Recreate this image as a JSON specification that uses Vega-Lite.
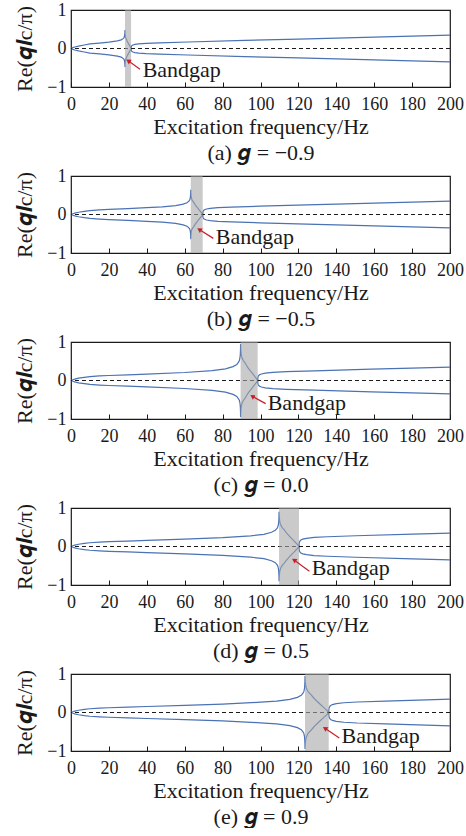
{
"$schema": "https://vega.github.io/schema/vega-lite/v6.json",
"padding": {"left": 13, "top": 0, "right": 2, "bottom": 0},
"spacing": 2,
"datasets": {
"curves": [
{"p":"a","f":0,"u":0,"l":0},{"p":"a","f":1,"u":0.022,"l":-0.022},{"p":"a","f":2,"u":0.039,"l":-0.039},{"p":"a","f":4,"u":0.063,"l":-0.063},{"p":"a","f":7,"u":0.091,"l":-0.091},{"p":"a","f":10,"u":0.119,"l":-0.119},{"p":"a","f":15,"u":0.141,"l":-0.141},{"p":"a","f":20,"u":0.164,"l":-0.164},{"p":"a","f":24.5,"u":0.197,"l":-0.197},{"p":"a","f":26.5,"u":0.225,"l":-0.225},{"p":"a","f":27.5,"u":0.256,"l":-0.256},{"p":"a","f":27.9,"u":0.277,"l":-0.277},{"p":"a","f":28.2,"u":0.312,"l":-0.312},{"p":"a","f":28.35,"u":0.354,"l":-0.354},{"p":"a","f":28.45,"u":0.41,"l":-0.41},{"p":"a","f":28.5,"u":0.48,"l":-0.48},
{"p":"a","f":28.53,"u":0.408,"l":-0.408},{"p":"a","f":28.6,"u":0.355,"l":-0.355},{"p":"a","f":28.69,"u":0.317,"l":-0.317},{"p":"a","f":28.82,"u":0.288,"l":-0.288},{"p":"a","f":29.04,"u":0.259,"l":-0.259},{"p":"a","f":29.3,"u":0.235,"l":-0.235},{"p":"a","f":29.62,"u":0.197,"l":-0.197},{"p":"a","f":29.94,"u":0.163,"l":-0.163},{"p":"a","f":30.26,"u":0.134,"l":-0.134},{"p":"a","f":30.58,"u":0.106,"l":-0.106},{"p":"a","f":30.9,"u":0.077,"l":-0.077},{"p":"a","f":31.22,"u":0.048,"l":-0.048},{"p":"a","f":31.48,"u":0.026,"l":-0.026},{"p":"a","f":31.7,"u":0,"l":0},
{"p":"a","f":31.8,"u":0.047,"l":-0.047},{"p":"a","f":32,"u":0.067,"l":-0.067},{"p":"a","f":32.3,"u":0.08,"l":-0.08},{"p":"a","f":32.7,"u":0.091,"l":-0.091},{"p":"a","f":33.7,"u":0.105,"l":-0.105},{"p":"a","f":35.7,"u":0.118,"l":-0.118},{"p":"a","f":39.7,"u":0.133,"l":-0.133},{"p":"a","f":46.7,"u":0.147,"l":-0.147},{"p":"a","f":61.7,"u":0.169,"l":-0.169},{"p":"a","f":91.7,"u":0.21,"l":-0.21},{"p":"a","f":120,"u":0.245,"l":-0.245},{"p":"a","f":140,"u":0.27,"l":-0.27},{"p":"a","f":160,"u":0.295,"l":-0.295},{"p":"a","f":180,"u":0.32,"l":-0.32},{"p":"a","f":200,"u":0.345,"l":-0.345},
{"p":"b","f":0,"u":0,"l":0},{"p":"b","f":1,"u":0.021,"l":-0.021},{"p":"b","f":2,"u":0.037,"l":-0.037},{"p":"b","f":4,"u":0.059,"l":-0.059},{"p":"b","f":7,"u":0.083,"l":-0.083},{"p":"b","f":10,"u":0.103,"l":-0.103},{"p":"b","f":15,"u":0.12,"l":-0.12},{"p":"b","f":20,"u":0.132,"l":-0.132},{"p":"b","f":30,"u":0.151,"l":-0.151},{"p":"b","f":40,"u":0.177,"l":-0.177},{"p":"b","f":48.2,"u":0.198,"l":-0.198},{"p":"b","f":55.2,"u":0.231,"l":-0.231},{"p":"b","f":59.2,"u":0.269,"l":-0.269},{"p":"b","f":61.2,"u":0.304,"l":-0.304},{"p":"b","f":62.2,"u":0.346,"l":-0.346},{"p":"b","f":62.6,"u":0.373,"l":-0.373},{"p":"b","f":62.9,"u":0.42,"l":-0.42},{"p":"b","f":63.05,"u":0.474,"l":-0.474},{"p":"b","f":63.15,"u":0.547,"l":-0.547},{"p":"b","f":63.2,"u":0.64,"l":-0.64},
{"p":"b","f":63.26,"u":0.544,"l":-0.544},{"p":"b","f":63.39,"u":0.474,"l":-0.474},{"p":"b","f":63.58,"u":0.422,"l":-0.422},{"p":"b","f":63.83,"u":0.384,"l":-0.384},{"p":"b","f":64.27,"u":0.346,"l":-0.346},{"p":"b","f":64.78,"u":0.314,"l":-0.314},{"p":"b","f":65.41,"u":0.262,"l":-0.262},{"p":"b","f":66.04,"u":0.218,"l":-0.218},{"p":"b","f":66.67,"u":0.179,"l":-0.179},{"p":"b","f":67.3,"u":0.141,"l":-0.141},{"p":"b","f":67.93,"u":0.102,"l":-0.102},{"p":"b","f":68.56,"u":0.064,"l":-0.064},{"p":"b","f":69.06,"u":0.035,"l":-0.035},{"p":"b","f":69.5,"u":0,"l":0},
{"p":"b","f":69.6,"u":0.064,"l":-0.064},{"p":"b","f":69.8,"u":0.091,"l":-0.091},{"p":"b","f":70.1,"u":0.11,"l":-0.11},{"p":"b","f":70.5,"u":0.124,"l":-0.124},{"p":"b","f":71.5,"u":0.142,"l":-0.142},{"p":"b","f":73.5,"u":0.159,"l":-0.159},{"p":"b","f":77.5,"u":0.177,"l":-0.177},{"p":"b","f":84.5,"u":0.193,"l":-0.193},{"p":"b","f":99.5,"u":0.216,"l":-0.216},{"p":"b","f":129.5,"u":0.257,"l":-0.257},{"p":"b","f":140,"u":0.27,"l":-0.27},{"p":"b","f":160,"u":0.295,"l":-0.295},{"p":"b","f":180,"u":0.32,"l":-0.32},{"p":"b","f":200,"u":0.345,"l":-0.345},
{"p":"c","f":0,"u":0,"l":0},{"p":"c","f":1,"u":0.021,"l":-0.021},{"p":"c","f":2,"u":0.037,"l":-0.037},{"p":"c","f":4,"u":0.06,"l":-0.06},{"p":"c","f":7,"u":0.083,"l":-0.083},{"p":"c","f":10,"u":0.103,"l":-0.103},{"p":"c","f":15,"u":0.119,"l":-0.119},{"p":"c","f":20,"u":0.13,"l":-0.13},{"p":"c","f":30,"u":0.146,"l":-0.146},{"p":"c","f":40,"u":0.168,"l":-0.168},{"p":"c","f":60,"u":0.208,"l":-0.208},{"p":"c","f":74.5,"u":0.257,"l":-0.257},{"p":"c","f":81.5,"u":0.303,"l":-0.303},{"p":"c","f":85.5,"u":0.361,"l":-0.361},{"p":"c","f":87.5,"u":0.416,"l":-0.416},{"p":"c","f":88.5,"u":0.482,"l":-0.482},{"p":"c","f":88.9,"u":0.524,"l":-0.524},{"p":"c","f":89.2,"u":0.599,"l":-0.599},{"p":"c","f":89.35,"u":0.684,"l":-0.684},{"p":"c","f":89.45,"u":0.801,"l":-0.801},{"p":"c","f":89.5,"u":0.95,"l":-0.95},
{"p":"c","f":89.59,"u":0.808,"l":-0.808},{"p":"c","f":89.77,"u":0.703,"l":-0.703},{"p":"c","f":90.04,"u":0.627,"l":-0.627},{"p":"c","f":90.4,"u":0.57,"l":-0.57},{"p":"c","f":91.03,"u":0.513,"l":-0.513},{"p":"c","f":91.75,"u":0.466,"l":-0.466},{"p":"c","f":92.65,"u":0.39,"l":-0.39},{"p":"c","f":93.55,"u":0.323,"l":-0.323},{"p":"c","f":94.45,"u":0.266,"l":-0.266},{"p":"c","f":95.35,"u":0.209,"l":-0.209},{"p":"c","f":96.25,"u":0.152,"l":-0.152},{"p":"c","f":97.15,"u":0.095,"l":-0.095},{"p":"c","f":97.87,"u":0.052,"l":-0.052},{"p":"c","f":98.5,"u":0,"l":0},
{"p":"c","f":98.6,"u":0.076,"l":-0.076},{"p":"c","f":98.8,"u":0.11,"l":-0.11},{"p":"c","f":99.1,"u":0.131,"l":-0.131},{"p":"c","f":99.5,"u":0.149,"l":-0.149},{"p":"c","f":100.5,"u":0.17,"l":-0.17},{"p":"c","f":102.5,"u":0.19,"l":-0.19},{"p":"c","f":106.5,"u":0.21,"l":-0.21},{"p":"c","f":113.5,"u":0.228,"l":-0.228},{"p":"c","f":128.5,"u":0.252,"l":-0.252},{"p":"c","f":158.5,"u":0.293,"l":-0.293},{"p":"c","f":180,"u":0.32,"l":-0.32},{"p":"c","f":200,"u":0.345,"l":-0.345},
{"p":"d","f":0,"u":0,"l":0},{"p":"d","f":1,"u":0.021,"l":-0.021},{"p":"d","f":2,"u":0.037,"l":-0.037},{"p":"d","f":4,"u":0.059,"l":-0.059},{"p":"d","f":7,"u":0.082,"l":-0.082},{"p":"d","f":10,"u":0.098,"l":-0.098},{"p":"d","f":15,"u":0.114,"l":-0.114},{"p":"d","f":20,"u":0.125,"l":-0.125},{"p":"d","f":30,"u":0.141,"l":-0.141},{"p":"d","f":40,"u":0.158,"l":-0.158},{"p":"d","f":60,"u":0.191,"l":-0.191},{"p":"d","f":80,"u":0.228,"l":-0.228},{"p":"d","f":94.8,"u":0.276,"l":-0.276},{"p":"d","f":101.8,"u":0.317,"l":-0.317},{"p":"d","f":105.8,"u":0.37,"l":-0.37},{"p":"d","f":107.8,"u":0.421,"l":-0.421},{"p":"d","f":108.8,"u":0.479,"l":-0.479},{"p":"d","f":109.2,"u":0.517,"l":-0.517},{"p":"d","f":109.5,"u":0.585,"l":-0.585},{"p":"d","f":109.65,"u":0.661,"l":-0.661},{"p":"d","f":109.75,"u":0.766,"l":-0.766},{"p":"d","f":109.8,"u":0.9,"l":-0.9},
{"p":"d","f":109.91,"u":0.765,"l":-0.765},{"p":"d","f":110.12,"u":0.666,"l":-0.666},{"p":"d","f":110.43,"u":0.594,"l":-0.594},{"p":"d","f":110.85,"u":0.54,"l":-0.54},{"p":"d","f":111.59,"u":0.486,"l":-0.486},{"p":"d","f":112.43,"u":0.441,"l":-0.441},{"p":"d","f":113.48,"u":0.369,"l":-0.369},{"p":"d","f":114.53,"u":0.306,"l":-0.306},{"p":"d","f":115.58,"u":0.252,"l":-0.252},{"p":"d","f":116.63,"u":0.198,"l":-0.198},{"p":"d","f":117.68,"u":0.144,"l":-0.144},{"p":"d","f":118.73,"u":0.09,"l":-0.09},{"p":"d","f":119.57,"u":0.05,"l":-0.05},{"p":"d","f":120.3,"u":0,"l":0},
{"p":"d","f":120.4,"u":0.086,"l":-0.086},{"p":"d","f":120.6,"u":0.123,"l":-0.123},{"p":"d","f":120.9,"u":0.148,"l":-0.148},{"p":"d","f":121.3,"u":0.167,"l":-0.167},{"p":"d","f":122.3,"u":0.191,"l":-0.191},{"p":"d","f":124.3,"u":0.213,"l":-0.213},{"p":"d","f":128.3,"u":0.235,"l":-0.235},{"p":"d","f":135.3,"u":0.253,"l":-0.253},{"p":"d","f":150.3,"u":0.279,"l":-0.279},{"p":"d","f":180.3,"u":0.32,"l":-0.32},{"p":"d","f":200,"u":0.345,"l":-0.345},
{"p":"e","f":0,"u":0,"l":0},{"p":"e","f":1,"u":0.021,"l":-0.021},{"p":"e","f":2,"u":0.037,"l":-0.037},{"p":"e","f":4,"u":0.059,"l":-0.059},{"p":"e","f":7,"u":0.082,"l":-0.082},{"p":"e","f":10,"u":0.098,"l":-0.098},{"p":"e","f":15,"u":0.113,"l":-0.113},{"p":"e","f":20,"u":0.123,"l":-0.123},{"p":"e","f":30,"u":0.139,"l":-0.139},{"p":"e","f":40,"u":0.156,"l":-0.156},{"p":"e","f":60,"u":0.184,"l":-0.184},{"p":"e","f":80,"u":0.22,"l":-0.22},{"p":"e","f":100,"u":0.267,"l":-0.267},{"p":"e","f":108.5,"u":0.296,"l":-0.296},{"p":"e","f":115.5,"u":0.339,"l":-0.339},{"p":"e","f":119.5,"u":0.394,"l":-0.394},{"p":"e","f":121.5,"u":0.447,"l":-0.447},{"p":"e","f":122.5,"u":0.508,"l":-0.508},{"p":"e","f":122.9,"u":0.548,"l":-0.548},{"p":"e","f":123.2,"u":0.619,"l":-0.619},{"p":"e","f":123.35,"u":0.699,"l":-0.699},{"p":"e","f":123.45,"u":0.809,"l":-0.809},{"p":"e","f":123.5,"u":0.95,"l":-0.95},
{"p":"e","f":123.63,"u":0.808,"l":-0.808},{"p":"e","f":123.88,"u":0.703,"l":-0.703},{"p":"e","f":124.25,"u":0.627,"l":-0.627},{"p":"e","f":124.75,"u":0.57,"l":-0.57},{"p":"e","f":125.63,"u":0.513,"l":-0.513},{"p":"e","f":126.63,"u":0.466,"l":-0.466},{"p":"e","f":127.88,"u":0.39,"l":-0.39},{"p":"e","f":129.13,"u":0.323,"l":-0.323},{"p":"e","f":130.38,"u":0.266,"l":-0.266},{"p":"e","f":131.63,"u":0.209,"l":-0.209},{"p":"e","f":132.88,"u":0.152,"l":-0.152},{"p":"e","f":134.13,"u":0.095,"l":-0.095},{"p":"e","f":135.13,"u":0.052,"l":-0.052},{"p":"e","f":136,"u":0,"l":0},
{"p":"e","f":136.1,"u":0.093,"l":-0.093},{"p":"e","f":136.3,"u":0.133,"l":-0.133},{"p":"e","f":136.6,"u":0.16,"l":-0.16},{"p":"e","f":137,"u":0.181,"l":-0.181},{"p":"e","f":138,"u":0.206,"l":-0.206},{"p":"e","f":140,"u":0.23,"l":-0.23},{"p":"e","f":144,"u":0.253,"l":-0.253},{"p":"e","f":151,"u":0.273,"l":-0.273},{"p":"e","f":166,"u":0.298,"l":-0.298},{"p":"e","f":196,"u":0.34,"l":-0.34},{"p":"e","f":200,"u":0.345,"l":-0.345}
],
"bands": [
{"p":"a","a":28.5,"b":31.7},{"p":"b","a":63.2,"b":69.5},{"p":"c","a":89.5,"b":98.5},{"p":"d","a":109.8,"b":120.3},{"p":"e","a":123.5,"b":136}
],
"ann": [
{"p":"a","x1":36.4,"y1":-0.54,"x2":30.2,"y2":-0.32,"tx":37.8,"ty":-0.74,"label":"Bandgap"},
{"p":"b","x1":75.1,"y1":-0.62,"x2":67.7,"y2":-0.39,"tx":76.4,"ty":-0.77,"label":"Bandgap"},
{"p":"c","x1":102.7,"y1":-0.6,"x2":95.7,"y2":-0.41,"tx":103.8,"ty":-0.76,"label":"Bandgap"},
{"p":"d","x1":125.8,"y1":-0.64,"x2":117.7,"y2":-0.35,"tx":127.0,"ty":-0.75,"label":"Bandgap"},
{"p":"e","x1":141.6,"y1":-0.66,"x2":134,"y2":-0.41,"tx":142.8,"ty":-0.78,"label":"Bandgap"}
]
},
"vconcat": [
{"width":379,"height":77,"resolve":{"axis":{"x":"independent","y":"independent"}},"layer":[
{"data":{"name":"curves"},"transform":[{"filter":"datum.p==='a'"}],"mark":{"type":"line","color":"#4a72b5","strokeWidth":1.2},"encoding":{"x":{"field":"f","type":"quantitative","scale":{"domain":[0,200]},"axis":{"values":[0,20,40,60,80,100,120,140,160,180,200],"format":"d","labelOverlap":false,"labelSeparation":0,"labelFlush":false,"tickSize":5,"offset":-5,"labelPadding":8,"titlePadding":3,"title":["Excitation frequency/Hz","(a) 𝒈 = −0.9"]}},"y":{"field":"u","type":"quantitative","scale":{"domain":[-1,1]},"axis":{"values":[-1,0,1],"labelExpr":"datum.value > 0.5 ? '1' : (datum.value < -0.5 ? '−1' : '0')","labelOverlap":false,"labelSeparation":0,"labelFlush":false,"ticks":false,"labelPadding":5,"titlePadding":10,"title":"Re(𝒒𝒍c/π)"}}}},
{"data":{"name":"curves"},"transform":[{"filter":"datum.p==='a'"}],"mark":{"type":"line","color":"#4a72b5","strokeWidth":1.2},"encoding":{"x":{"field":"f","type":"quantitative","scale":{"domain":[0,200]},"axis":null},"y":{"field":"l","type":"quantitative","scale":{"domain":[-1,1]},"axis":null}}},
{"data":{"values":[{}]},"mark":{"type":"rule","color":"#1a1a1a","strokeDash":[4,3],"strokeWidth":1},"encoding":{"y":{"datum":0,"axis":null}}},
{"data":{"name":"bands"},"transform":[{"filter":"datum.p==='a'"}],"mark":{"type":"rect","color":"#a6a6a6","opacity":0.6},"encoding":{"x":{"field":"a","type":"quantitative","scale":{"domain":[0,200]},"axis":null},"x2":{"field":"b"}}},
{"data":{"name":"ann"},"transform":[{"filter":"datum.p==='a'"}],"mark":{"type":"rule","color":"#c8202a","strokeWidth":1.2},"encoding":{"x":{"field":"x1","type":"quantitative","scale":{"domain":[0,200]},"axis":null},"y":{"field":"y1","type":"quantitative","scale":{"domain":[-1,1]},"axis":null},"x2":{"field":"x2"},"y2":{"field":"y2"}}},
{"data":{"name":"ann"},"transform":[{"filter":"datum.p==='a'"}],"mark":{"type":"point","shape":"triangle-left","angle":33,"filled":true,"size":30,"color":"#c8202a","opacity":1},"encoding":{"x":{"field":"x2","type":"quantitative","scale":{"domain":[0,200]},"axis":null},"y":{"field":"y2","type":"quantitative","scale":{"domain":[-1,1]},"axis":null}}},
{"data":{"name":"ann"},"transform":[{"filter":"datum.p==='a'"}],"mark":{"type":"text","align":"left","baseline":"alphabetic","fontSize":22,"font":"Liberation Serif","color":"#1a1a1a"},"encoding":{"x":{"field":"tx","type":"quantitative","scale":{"domain":[0,200]},"axis":null},"y":{"field":"ty","type":"quantitative","scale":{"domain":[-1,1]},"axis":null},"text":{"field":"label"}}}
]},
{"width":379,"height":77,"resolve":{"axis":{"x":"independent","y":"independent"}},"layer":[
{"data":{"name":"curves"},"transform":[{"filter":"datum.p==='b'"}],"mark":{"type":"line","color":"#4a72b5","strokeWidth":1.2},"encoding":{"x":{"field":"f","type":"quantitative","scale":{"domain":[0,200]},"axis":{"values":[0,20,40,60,80,100,120,140,160,180,200],"format":"d","labelOverlap":false,"labelSeparation":0,"labelFlush":false,"tickSize":5,"offset":-5,"labelPadding":8,"titlePadding":3,"title":["Excitation frequency/Hz","(b) 𝒈 = −0.5"]}},"y":{"field":"u","type":"quantitative","scale":{"domain":[-1,1]},"axis":{"values":[-1,0,1],"labelExpr":"datum.value > 0.5 ? '1' : (datum.value < -0.5 ? '−1' : '0')","labelOverlap":false,"labelSeparation":0,"labelFlush":false,"ticks":false,"labelPadding":5,"titlePadding":10,"title":"Re(𝒒𝒍c/π)"}}}},
{"data":{"name":"curves"},"transform":[{"filter":"datum.p==='b'"}],"mark":{"type":"line","color":"#4a72b5","strokeWidth":1.2},"encoding":{"x":{"field":"f","type":"quantitative","scale":{"domain":[0,200]},"axis":null},"y":{"field":"l","type":"quantitative","scale":{"domain":[-1,1]},"axis":null}}},
{"data":{"values":[{}]},"mark":{"type":"rule","color":"#1a1a1a","strokeDash":[4,3],"strokeWidth":1},"encoding":{"y":{"datum":0,"axis":null}}},
{"data":{"name":"bands"},"transform":[{"filter":"datum.p==='b'"}],"mark":{"type":"rect","color":"#a6a6a6","opacity":0.6},"encoding":{"x":{"field":"a","type":"quantitative","scale":{"domain":[0,200]},"axis":null},"x2":{"field":"b"}}},
{"data":{"name":"ann"},"transform":[{"filter":"datum.p==='b'"}],"mark":{"type":"rule","color":"#c8202a","strokeWidth":1.2},"encoding":{"x":{"field":"x1","type":"quantitative","scale":{"domain":[0,200]},"axis":null},"y":{"field":"y1","type":"quantitative","scale":{"domain":[-1,1]},"axis":null},"x2":{"field":"x2"},"y2":{"field":"y2"}}},
{"data":{"name":"ann"},"transform":[{"filter":"datum.p==='b'"}],"mark":{"type":"point","shape":"triangle-left","angle":33,"filled":true,"size":30,"color":"#c8202a","opacity":1},"encoding":{"x":{"field":"x2","type":"quantitative","scale":{"domain":[0,200]},"axis":null},"y":{"field":"y2","type":"quantitative","scale":{"domain":[-1,1]},"axis":null}}},
{"data":{"name":"ann"},"transform":[{"filter":"datum.p==='b'"}],"mark":{"type":"text","align":"left","baseline":"alphabetic","fontSize":22,"font":"Liberation Serif","color":"#1a1a1a"},"encoding":{"x":{"field":"tx","type":"quantitative","scale":{"domain":[0,200]},"axis":null},"y":{"field":"ty","type":"quantitative","scale":{"domain":[-1,1]},"axis":null},"text":{"field":"label"}}}
]},
{"width":379,"height":77,"resolve":{"axis":{"x":"independent","y":"independent"}},"layer":[
{"data":{"name":"curves"},"transform":[{"filter":"datum.p==='c'"}],"mark":{"type":"line","color":"#4a72b5","strokeWidth":1.2},"encoding":{"x":{"field":"f","type":"quantitative","scale":{"domain":[0,200]},"axis":{"values":[0,20,40,60,80,100,120,140,160,180,200],"format":"d","labelOverlap":false,"labelSeparation":0,"labelFlush":false,"tickSize":5,"offset":-5,"labelPadding":8,"titlePadding":3,"title":["Excitation frequency/Hz","(c) 𝒈 = 0.0"]}},"y":{"field":"u","type":"quantitative","scale":{"domain":[-1,1]},"axis":{"values":[-1,0,1],"labelExpr":"datum.value > 0.5 ? '1' : (datum.value < -0.5 ? '−1' : '0')","labelOverlap":false,"labelSeparation":0,"labelFlush":false,"ticks":false,"labelPadding":5,"titlePadding":10,"title":"Re(𝒒𝒍c/π)"}}}},
{"data":{"name":"curves"},"transform":[{"filter":"datum.p==='c'"}],"mark":{"type":"line","color":"#4a72b5","strokeWidth":1.2},"encoding":{"x":{"field":"f","type":"quantitative","scale":{"domain":[0,200]},"axis":null},"y":{"field":"l","type":"quantitative","scale":{"domain":[-1,1]},"axis":null}}},
{"data":{"values":[{}]},"mark":{"type":"rule","color":"#1a1a1a","strokeDash":[4,3],"strokeWidth":1},"encoding":{"y":{"datum":0,"axis":null}}},
{"data":{"name":"bands"},"transform":[{"filter":"datum.p==='c'"}],"mark":{"type":"rect","color":"#a6a6a6","opacity":0.6},"encoding":{"x":{"field":"a","type":"quantitative","scale":{"domain":[0,200]},"axis":null},"x2":{"field":"b"}}},
{"data":{"name":"ann"},"transform":[{"filter":"datum.p==='c'"}],"mark":{"type":"rule","color":"#c8202a","strokeWidth":1.2},"encoding":{"x":{"field":"x1","type":"quantitative","scale":{"domain":[0,200]},"axis":null},"y":{"field":"y1","type":"quantitative","scale":{"domain":[-1,1]},"axis":null},"x2":{"field":"x2"},"y2":{"field":"y2"}}},
{"data":{"name":"ann"},"transform":[{"filter":"datum.p==='c'"}],"mark":{"type":"point","shape":"triangle-left","angle":33,"filled":true,"size":30,"color":"#c8202a","opacity":1},"encoding":{"x":{"field":"x2","type":"quantitative","scale":{"domain":[0,200]},"axis":null},"y":{"field":"y2","type":"quantitative","scale":{"domain":[-1,1]},"axis":null}}},
{"data":{"name":"ann"},"transform":[{"filter":"datum.p==='c'"}],"mark":{"type":"text","align":"left","baseline":"alphabetic","fontSize":22,"font":"Liberation Serif","color":"#1a1a1a"},"encoding":{"x":{"field":"tx","type":"quantitative","scale":{"domain":[0,200]},"axis":null},"y":{"field":"ty","type":"quantitative","scale":{"domain":[-1,1]},"axis":null},"text":{"field":"label"}}}
]},
{"width":379,"height":77,"resolve":{"axis":{"x":"independent","y":"independent"}},"layer":[
{"data":{"name":"curves"},"transform":[{"filter":"datum.p==='d'"}],"mark":{"type":"line","color":"#4a72b5","strokeWidth":1.2},"encoding":{"x":{"field":"f","type":"quantitative","scale":{"domain":[0,200]},"axis":{"values":[0,20,40,60,80,100,120,140,160,180,200],"format":"d","labelOverlap":false,"labelSeparation":0,"labelFlush":false,"tickSize":5,"offset":-5,"labelPadding":8,"titlePadding":3,"title":["Excitation frequency/Hz","(d) 𝒈 = 0.5"]}},"y":{"field":"u","type":"quantitative","scale":{"domain":[-1,1]},"axis":{"values":[-1,0,1],"labelExpr":"datum.value > 0.5 ? '1' : (datum.value < -0.5 ? '−1' : '0')","labelOverlap":false,"labelSeparation":0,"labelFlush":false,"ticks":false,"labelPadding":5,"titlePadding":10,"title":"Re(𝒒𝒍c/π)"}}}},
{"data":{"name":"curves"},"transform":[{"filter":"datum.p==='d'"}],"mark":{"type":"line","color":"#4a72b5","strokeWidth":1.2},"encoding":{"x":{"field":"f","type":"quantitative","scale":{"domain":[0,200]},"axis":null},"y":{"field":"l","type":"quantitative","scale":{"domain":[-1,1]},"axis":null}}},
{"data":{"values":[{}]},"mark":{"type":"rule","color":"#1a1a1a","strokeDash":[4,3],"strokeWidth":1},"encoding":{"y":{"datum":0,"axis":null}}},
{"data":{"name":"bands"},"transform":[{"filter":"datum.p==='d'"}],"mark":{"type":"rect","color":"#a6a6a6","opacity":0.6},"encoding":{"x":{"field":"a","type":"quantitative","scale":{"domain":[0,200]},"axis":null},"x2":{"field":"b"}}},
{"data":{"name":"ann"},"transform":[{"filter":"datum.p==='d'"}],"mark":{"type":"rule","color":"#c8202a","strokeWidth":1.2},"encoding":{"x":{"field":"x1","type":"quantitative","scale":{"domain":[0,200]},"axis":null},"y":{"field":"y1","type":"quantitative","scale":{"domain":[-1,1]},"axis":null},"x2":{"field":"x2"},"y2":{"field":"y2"}}},
{"data":{"name":"ann"},"transform":[{"filter":"datum.p==='d'"}],"mark":{"type":"point","shape":"triangle-left","angle":33,"filled":true,"size":30,"color":"#c8202a","opacity":1},"encoding":{"x":{"field":"x2","type":"quantitative","scale":{"domain":[0,200]},"axis":null},"y":{"field":"y2","type":"quantitative","scale":{"domain":[-1,1]},"axis":null}}},
{"data":{"name":"ann"},"transform":[{"filter":"datum.p==='d'"}],"mark":{"type":"text","align":"left","baseline":"alphabetic","fontSize":22,"font":"Liberation Serif","color":"#1a1a1a"},"encoding":{"x":{"field":"tx","type":"quantitative","scale":{"domain":[0,200]},"axis":null},"y":{"field":"ty","type":"quantitative","scale":{"domain":[-1,1]},"axis":null},"text":{"field":"label"}}}
]},
{"width":379,"height":77,"resolve":{"axis":{"x":"independent","y":"independent"}},"layer":[
{"data":{"name":"curves"},"transform":[{"filter":"datum.p==='e'"}],"mark":{"type":"line","color":"#4a72b5","strokeWidth":1.2},"encoding":{"x":{"field":"f","type":"quantitative","scale":{"domain":[0,200]},"axis":{"values":[0,20,40,60,80,100,120,140,160,180,200],"format":"d","labelOverlap":false,"labelSeparation":0,"labelFlush":false,"tickSize":5,"offset":-5,"labelPadding":8,"titlePadding":3,"title":["Excitation frequency/Hz","(e) 𝒈 = 0.9"]}},"y":{"field":"u","type":"quantitative","scale":{"domain":[-1,1]},"axis":{"values":[-1,0,1],"labelExpr":"datum.value > 0.5 ? '1' : (datum.value < -0.5 ? '−1' : '0')","labelOverlap":false,"labelSeparation":0,"labelFlush":false,"ticks":false,"labelPadding":5,"titlePadding":10,"title":"Re(𝒒𝒍c/π)"}}}},
{"data":{"name":"curves"},"transform":[{"filter":"datum.p==='e'"}],"mark":{"type":"line","color":"#4a72b5","strokeWidth":1.2},"encoding":{"x":{"field":"f","type":"quantitative","scale":{"domain":[0,200]},"axis":null},"y":{"field":"l","type":"quantitative","scale":{"domain":[-1,1]},"axis":null}}},
{"data":{"values":[{}]},"mark":{"type":"rule","color":"#1a1a1a","strokeDash":[4,3],"strokeWidth":1},"encoding":{"y":{"datum":0,"axis":null}}},
{"data":{"name":"bands"},"transform":[{"filter":"datum.p==='e'"}],"mark":{"type":"rect","color":"#a6a6a6","opacity":0.6},"encoding":{"x":{"field":"a","type":"quantitative","scale":{"domain":[0,200]},"axis":null},"x2":{"field":"b"}}},
{"data":{"name":"ann"},"transform":[{"filter":"datum.p==='e'"}],"mark":{"type":"rule","color":"#c8202a","strokeWidth":1.2},"encoding":{"x":{"field":"x1","type":"quantitative","scale":{"domain":[0,200]},"axis":null},"y":{"field":"y1","type":"quantitative","scale":{"domain":[-1,1]},"axis":null},"x2":{"field":"x2"},"y2":{"field":"y2"}}},
{"data":{"name":"ann"},"transform":[{"filter":"datum.p==='e'"}],"mark":{"type":"point","shape":"triangle-left","angle":33,"filled":true,"size":30,"color":"#c8202a","opacity":1},"encoding":{"x":{"field":"x2","type":"quantitative","scale":{"domain":[0,200]},"axis":null},"y":{"field":"y2","type":"quantitative","scale":{"domain":[-1,1]},"axis":null}}},
{"data":{"name":"ann"},"transform":[{"filter":"datum.p==='e'"}],"mark":{"type":"text","align":"left","baseline":"alphabetic","fontSize":22,"font":"Liberation Serif","color":"#1a1a1a"},"encoding":{"x":{"field":"tx","type":"quantitative","scale":{"domain":[0,200]},"axis":null},"y":{"field":"ty","type":"quantitative","scale":{"domain":[-1,1]},"axis":null},"text":{"field":"label"}}}
]}
],
"config": {
"font": "Liberation Serif",
"background": "white",
"view": {"stroke": "#1a1a1a", "strokeWidth": 1.2},
"axis": {"domain": false, "grid": false, "labelOverlap": false, "labelSeparation": 0, "labelFont": "Liberation Serif", "titleFont": "Liberation Serif", "labelFontSize": 18, "titleFontSize": 22, "titleFontWeight": "normal", "labelColor": "#1a1a1a", "titleColor": "#1a1a1a", "tickColor": "#1a1a1a", "tickWidth": 1},
"axisX": {"titleLineHeight": 26}
}
}
